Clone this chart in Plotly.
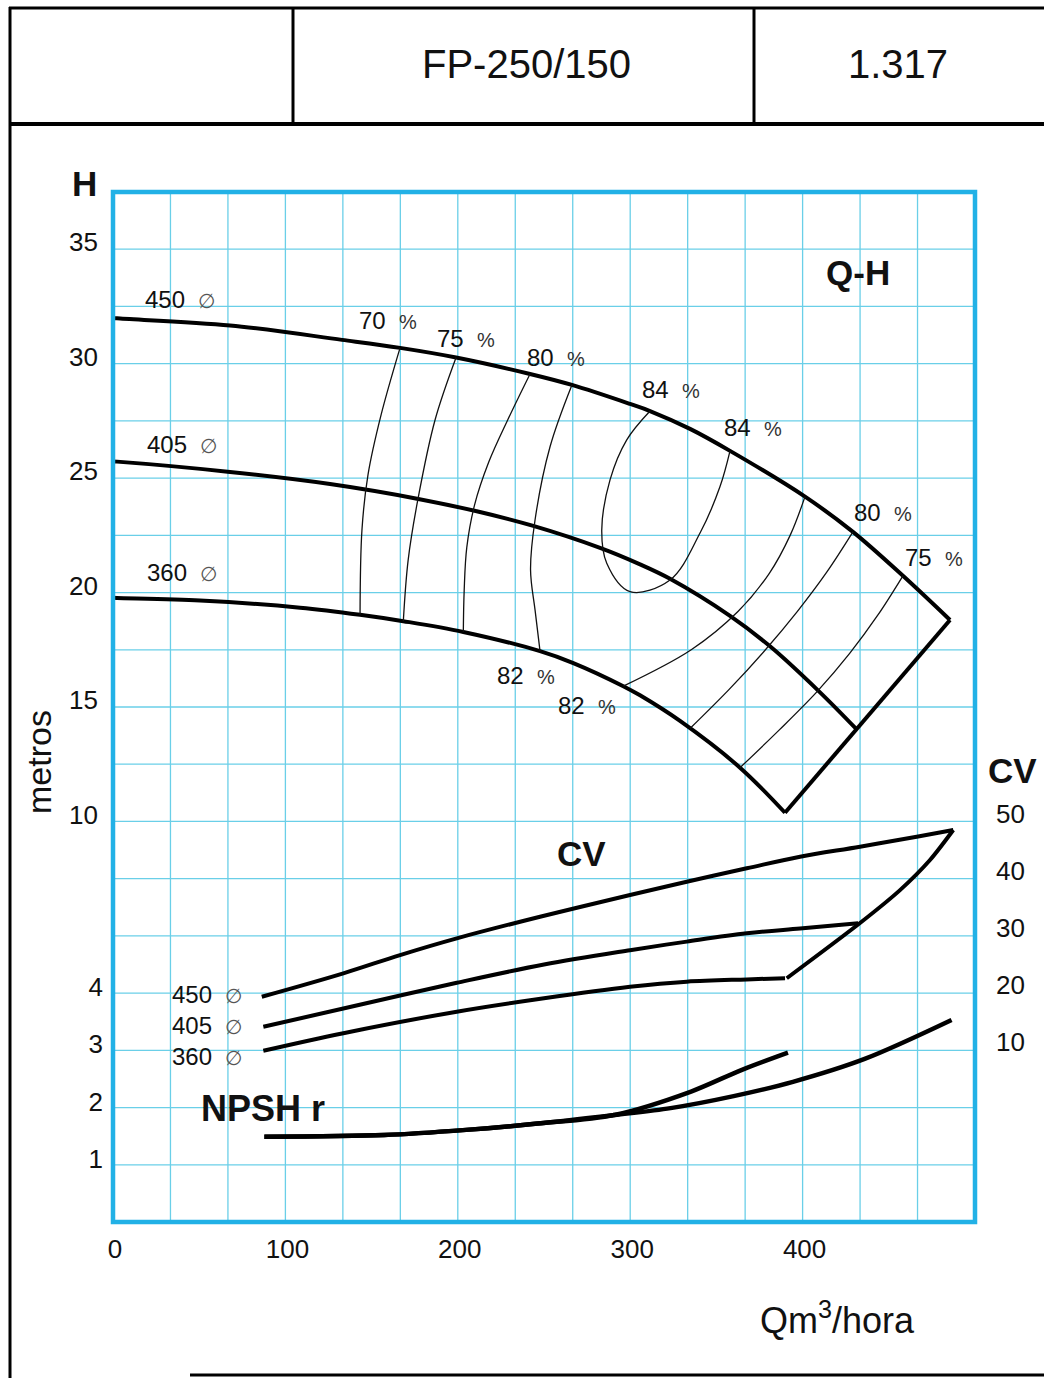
import plotly.graph_objects as go

# ---- Q-H curves for three impeller diameters (Q m3/h, H m) ----
q_450 = [0, 2.3, 67.9, 132.8, 166.5, 199.0, 241.9, 266.2, 299.9, 311.5, 334.7, 357.9, 401.4, 429.2, 458.2, 485.5]
h_450 = [32.0, 31.98, 31.67, 31.04, 30.69, 30.27, 29.55, 29.07, 28.24, 27.93, 27.15, 26.19, 24.19, 22.65, 20.73, 18.8]

q_405 = [0, 2.3, 66.5, 125.9, 177.1, 211.0, 243.8, 282.5, 305.7, 323.1, 357.9, 381.1, 410.1, 431.4]
h_405 = [25.73, 25.72, 25.28, 24.74, 24.09, 23.55, 22.91, 21.95, 21.23, 20.6, 18.98, 17.65, 15.64, 14.02]

q_360 = [0, 2.3, 50.5, 108.5, 143.3, 168.4, 203.2, 247.7, 267.0, 296.0, 305.7, 328.9, 363.7, 389.8]
h_360 = [19.77, 19.76, 19.65, 19.34, 19.03, 18.75, 18.28, 17.44, 16.92, 15.91, 15.51, 14.39, 12.35, 10.38]

# end-of-curve limit line
q_end = [485.5, 431.4, 389.8]
h_end = [18.8, 14.02, 10.38]

# ---- iso-efficiency lines ----
eff_lines = {
    "70": ([166.5, 155.5, 147.9, 144.4, 143.3], [30.69, 27.76, 25.14, 22.73, 19.03]),
    "75": ([199, 186.8, 176.9, 171.2, 168.4], [30.27, 27.54, 24.09, 21.42, 18.75]),
    "80": ([241.9, 229.0, 217.9, 209.7, 205.2, 203.7, 203.2], [29.55, 27.55, 25.69, 23.82, 21.96, 20.09, 18.28]),
    "82": ([266.2, 253.5, 244.8, 242.2, 244.8, 247.7], [29.07, 26.37, 23.17, 20.99, 19.24, 17.44]),
    "84": ([311.5, 298, 288.3, 283.5, 286.4, 299.9, 323.1, 340.5, 352.1, 357.9],
           [27.93, 26.67, 24.92, 22.73, 21.28, 20.04, 20.55, 22.6, 24.63, 26.19]),
    "82b": ([401.4, 392.9, 380.7, 362.5, 335.4, 296.0], [24.19, 22.52, 20.84, 19.17, 17.5, 15.91]),
    "80b": ([429.2, 414.0, 397.0, 378.2, 357.4, 334.8], [22.65, 20.89, 19.18, 17.48, 15.77, 14.07]),
    "75b": ([458.2, 443.7, 427.3, 408.4, 386.5, 363.7], [20.73, 19.02, 17.34, 15.67, 14.0, 12.35]),
}

# ---- absorbed power (CV) ----
q_cv450 = [86.3, 133.6, 166.5, 199.4, 247.7, 299.9, 332.8, 367.6, 398.5, 433.3, 466.2, 487.4]
cv_450 = [19.37, 23.46, 26.65, 29.57, 33.35, 37.14, 39.47, 41.81, 43.84, 45.58, 47.33, 48.5]
q_cv405 = [87.2, 133.6, 199.4, 250, 299.9, 332.8, 367.6, 398.5, 432.2]
cv_405 = [14.13, 17.3, 21.8, 25.0, 27.5, 29.0, 30.45, 31.3, 32.2]
q_cv360 = [87.2, 133.6, 199.4, 250, 299.9, 332.8, 367.6, 389.8]
cv_360 = [9.93, 13.0, 16.75, 19.1, 21.1, 22.0, 22.4, 22.6]
q_cv_end = [487.4, 473.9, 456.5, 433.3, 390.8]
cv_end = [48.5, 43.26, 38.0, 32.25, 22.6]

# ---- NPSH required ----
q_npsh_a = [87.8, 157.4, 204.8, 246.3, 290.8, 335.3, 364.8, 391.5]
npsh_a = [1.49, 1.52, 1.61, 1.72, 1.87, 2.28, 2.66, 2.96]
q_npsh_b = [87.8, 157.4, 204.8, 246.3, 290.8, 323.4, 360, 394.4, 436, 486.4]
npsh_b = [1.49, 1.52, 1.61, 1.72, 1.87, 1.99, 2.2, 2.45, 2.85, 3.53]

# axis ticks
q_ticks = [0, 100, 200, 300, 400]
h_ticks = [10, 15, 20, 25, 30, 35]
npsh_ticks = [1, 2, 3, 4]
cv_ticks = [10, 20, 30, 40, 50]

W, HGT = 1044, 1378
L, R, T, B = 113, 975, 192, 1222
FONT = "Liberation Sans, Arial, Helvetica, sans-serif"
GRID = "#6acfe8"
BORDER = "#22b1e6"


def px(x):
    return (x - L) / (R - L)


def py(y):
    return (B - y) / (B - T)


fig = go.Figure()

thick = dict(color="black", width=4, shape="spline", smoothing=1.0)
for q, h in [(q_450, h_450), (q_405, h_405), (q_360, h_360)]:
    fig.add_trace(go.Scatter(x=q, y=h, mode="lines", line=thick, yaxis="y", hoverinfo="skip"))
fig.add_trace(go.Scatter(x=q_end, y=h_end, mode="lines", line=dict(color="black", width=4),
                         yaxis="y", hoverinfo="skip"))

for name, (q, h) in eff_lines.items():
    fig.add_trace(go.Scatter(x=q, y=h, mode="lines",
                             line=dict(color="#111", width=1.3, shape="spline", smoothing=1.0),
                             yaxis="y", hoverinfo="skip"))

for q, c in [(q_cv450, cv_450), (q_cv405, cv_405), (q_cv360, cv_360)]:
    fig.add_trace(go.Scatter(x=q, y=c, mode="lines", line=thick, yaxis="y3", hoverinfo="skip"))
fig.add_trace(go.Scatter(x=q_cv_end, y=cv_end, mode="lines",
                         line=dict(color="black", width=4, shape="spline", smoothing=0.8),
                         yaxis="y3", hoverinfo="skip"))

for q, n in [(q_npsh_a, npsh_a), (q_npsh_b, npsh_b)]:
    fig.add_trace(go.Scatter(x=q, y=n, mode="lines",
                             line=dict(color="black", width=4.5, shape="spline", smoothing=0.9),
                             yaxis="y2", hoverinfo="skip"))

shapes = []
# grid: 15 columns x 18 rows
for k in range(1, 15):
    shapes.append(dict(type="line", xref="paper", yref="paper", x0=k / 15, x1=k / 15, y0=0, y1=1,
                       line=dict(color=GRID, width=1.3), layer="below"))
for k in range(1, 18):
    shapes.append(dict(type="line", xref="paper", yref="paper", x0=0, x1=1, y0=k / 18, y1=k / 18,
                       line=dict(color=GRID, width=1.3), layer="below"))
shapes.append(dict(type="rect", xref="paper", yref="paper", x0=0, x1=1, y0=0, y1=1,
                   line=dict(color=BORDER, width=4.5)))


# sheet frame and header boxes
def hline(y, x0, x1, w):
    shapes.append(dict(type="line", xref="paper", yref="paper", x0=px(x0), x1=px(x1),
                       y0=py(y), y1=py(y), line=dict(color="black", width=w)))


def vline(x, y0, y1, w):
    shapes.append(dict(type="line", xref="paper", yref="paper", x0=px(x), x1=px(x),
                       y0=py(y0), y1=py(y1), line=dict(color="black", width=w)))


hline(8, 9, 1044, 3)
hline(124, 9, 1044, 4)
hline(1375, 190, 1044, 3)
vline(10, 7, 1378, 3)
vline(293, 8, 124, 3)
vline(754, 8, 124, 3)

ann = []


def text(x, y, s, size=24, bold=False, xanchor="left", ref="data", color="#111", angle=0):
    a = dict(text=f"<b>{s}</b>" if bold else s, showarrow=False, xanchor=xanchor, yanchor="middle",
             font=dict(family=FONT, size=size, color=color), textangle=angle)
    if ref == "data":
        a.update(x=x, y=y, xref="x", yref="y")
    else:
        a.update(x=px(x), y=py(y), xref="paper", yref="paper")
    ann.append(a)


DIA = "<span style='font-size:20px;color:#555'>∅</span>"
PCT = "<span style='font-size:20px;color:#333'>%</span>"

# diameter labels on Q-H curves
text(17.4, 32.8, "450  " + DIA)
text(18.6, 26.45, "405  " + DIA)
text(18.6, 20.86, "360  " + DIA)

# efficiency labels
for q, h, v in [(141.5, 31.9, "70"), (186.8, 31.08, "75"), (239, 30.29, "80"), (305.7, 28.85, "84"),
                (353.2, 27.19, "84"), (428.7, 23.48, "80"), (458.2, 21.55, "75"),
                (221.6, 16.36, "82"), (257, 15.05, "82")]:
    text(q, h, v + "  " + PCT)

text(432.1, 34.0, "Q-H", size=35, bold=True, xanchor="center")
text(272, 8.62, "CV", size=35, bold=True, xanchor="center")
text(87, -2.52, "NPSH r", size=36, bold=True, xanchor="center")

# diameter labels on CV curves
text(33.1, 2.46, "450  " + DIA)
text(33.1, 1.07, "405  " + DIA)
text(33.1, -0.29, "360  " + DIA)

# outside texts
text(1012, 770, "CV", size=35, bold=True, xanchor="center", ref="paper")
text(84, 183, "H", size=35, bold=True, xanchor="center", ref="paper")
text(39, 762, "metros", size=34, xanchor="center", ref="paper", angle=-90)
text(837, 1318, "Qm<sup>3</sup>/hora", size=36, xanchor="center", ref="paper")
text(526, 64, "FP-250/150", size=40, xanchor="center", ref="paper")
text(898, 64, "1.317", size=40, xanchor="center", ref="paper")

tickfont = dict(family=FONT, size=26, color="#111")

fig.update_layout(
    width=W, height=HGT, autosize=False,
    margin=dict(l=L, r=W - R, t=T, b=HGT - B, pad=0),
    paper_bgcolor="white", plot_bgcolor="white",
    showlegend=False,
    shapes=shapes, annotations=ann,
    xaxis=dict(range=[0, 500], tickvals=q_ticks, showgrid=False, zeroline=False, ticks="",
               tickfont=tickfont, ticklabelstandoff=9, ticklabelshift=2, showline=False, fixedrange=True),
    yaxis=dict(range=[-7.5, 37.5], tickvals=h_ticks, showgrid=False, zeroline=False, ticks="",
               tickfont=tickfont, ticklabelstandoff=14, ticklabelshift=-7, showline=False, fixedrange=True),
    yaxis2=dict(range=[0, 18], tickvals=npsh_ticks, overlaying="y", side="left", anchor="x",
                showgrid=False, zeroline=False, ticks="", tickfont=tickfont, ticklabelstandoff=9,
                ticklabelshift=-6, showline=False, fixedrange=True),
    yaxis3=dict(range=[-20, 160], tickvals=cv_ticks, overlaying="y", side="right", anchor="x",
                showgrid=False, zeroline=False, ticks="", tickfont=tickfont, ticklabelstandoff=20,
                ticklabelshift=-8, showline=False, fixedrange=True),
)

fig.write_html("out.html")
